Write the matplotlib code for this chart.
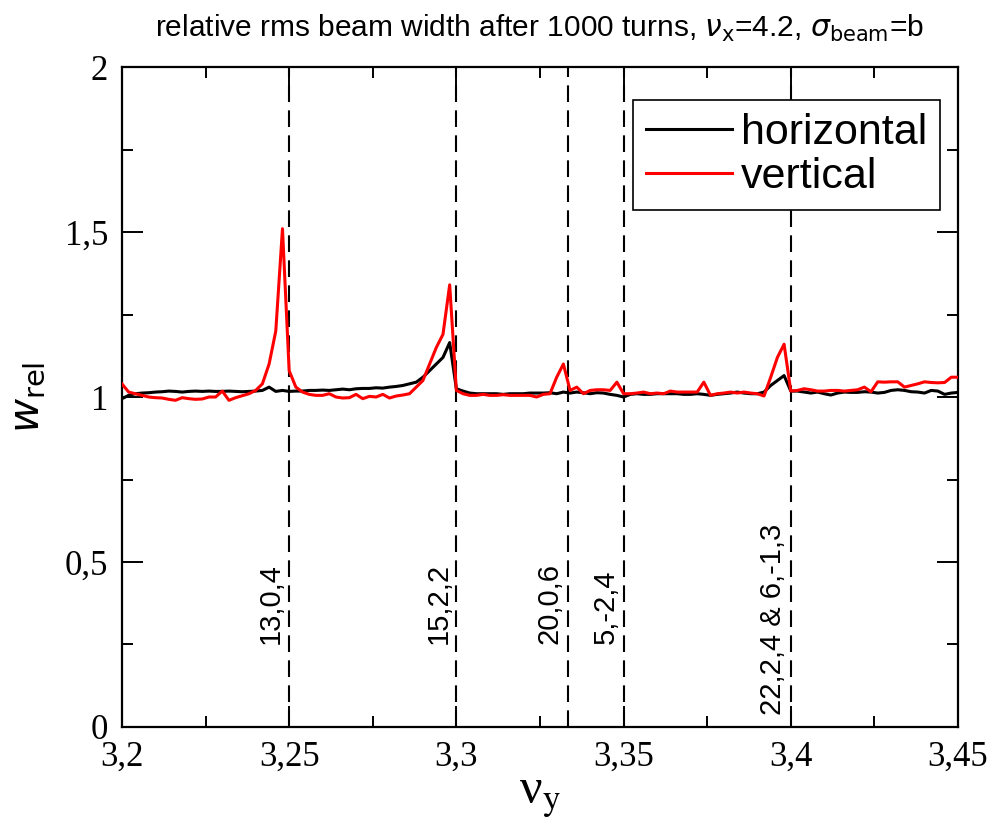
import matplotlib
matplotlib.use("Agg")
import matplotlib.pyplot as plt
import numpy as np
from matplotlib.ticker import MultipleLocator, FuncFormatter
from matplotlib.transforms import offset_copy

# tune scan grid (nu_y), step 0.002
NU_Y = np.round(np.arange(3.200, 3.4501, 0.002), 3)

# one row = 10 scan points (3.200-3.218, 3.220-3.238, ...)
HORIZONTAL = [
    0.995, 1.005, 1.010, 1.012, 1.013, 1.015, 1.016, 1.018, 1.017, 1.015,
    1.017, 1.018, 1.017, 1.018, 1.017, 1.017, 1.018, 1.017, 1.016, 1.017,
    1.018, 1.020, 1.030, 1.017, 1.020, 1.017, 1.018, 1.018, 1.020, 1.020,
    1.021, 1.020, 1.022, 1.024, 1.022, 1.025, 1.026, 1.026, 1.028, 1.027,
    1.030, 1.032, 1.035, 1.040, 1.045, 1.060, 1.080, 1.100, 1.120, 1.165,
    1.025, 1.018, 1.012, 1.010, 1.010, 1.010, 1.010, 1.008, 1.010, 1.010,
    1.010, 1.012, 1.012, 1.012, 1.013, 1.010, 1.015, 1.012, 1.015, 1.013,
    1.010, 1.013, 1.012, 1.008, 1.005, 1.000, 1.008, 1.010, 1.008, 1.008,
    1.010, 1.010, 1.010, 1.010, 1.008, 1.008, 1.010, 1.008, 1.005, 1.008,
    1.010, 1.012, 1.015, 1.012, 1.010, 1.010, 1.015, 1.035, 1.050, 1.065,
    1.018, 1.018, 1.015, 1.012, 1.015, 1.010, 1.006, 1.012, 1.015, 1.014,
    1.014, 1.016, 1.015, 1.012, 1.014, 1.020, 1.022, 1.020, 1.016, 1.015,
    1.012, 1.020, 1.018, 1.008, 1.012, 1.014,
]

VERTICAL = [
    1.040, 1.015, 1.010, 1.005, 1.000, 0.998, 0.997, 0.993, 0.990, 0.998,
    0.995, 0.993, 0.994, 1.000, 1.000, 1.018, 0.990, 0.998, 1.004, 1.010,
    1.020, 1.040, 1.100, 1.200, 1.510, 1.080, 1.030, 1.015, 1.008, 1.005,
    1.005, 1.010, 1.000, 0.997, 0.998, 1.008, 0.995, 1.002, 1.000, 1.008,
    0.997, 1.003, 1.006, 1.010, 1.030, 1.050, 1.100, 1.150, 1.190, 1.340,
    1.020, 1.010, 1.005, 1.005, 1.008, 1.005, 1.005, 1.007, 1.005, 1.005,
    1.005, 1.005, 1.000, 1.008, 1.010, 1.060, 1.100, 1.020, 1.030, 1.010,
    1.020, 1.022, 1.022, 1.020, 1.045, 1.010, 1.010, 1.012, 1.015, 1.010,
    1.012, 1.010, 1.018, 1.015, 1.015, 1.015, 1.015, 1.045, 1.005, 1.010,
    1.012, 1.015, 1.012, 1.015, 1.012, 1.010, 1.003, 1.060, 1.120, 1.160,
    1.018, 1.020, 1.025, 1.022, 1.018, 1.018, 1.020, 1.020, 1.018, 1.020,
    1.022, 1.030, 1.016, 1.046, 1.045, 1.046, 1.046, 1.030, 1.035, 1.040,
    1.046, 1.044, 1.043, 1.044, 1.060, 1.060,
]

RESONANCES = [3.25, 3.30, 10.0 / 3.0, 3.35, 3.40]
RESONANCE_LABELS = ["13,0,4", "15,2,2", "20,0,6", "5,-2,4", "22,2,4 & 6,-1,3"]
LABEL_BASE = [0.25, 0.25, 0.25, 0.25, 0.035]


def comma(v, pos):
    return f"{v:g}".replace(".", ",")


fig = plt.figure(figsize=(9.98, 8.39), dpi=100)
ax = fig.add_axes([0.1222, 0.1335, 0.8377, 0.7866])

ax.plot(NU_Y, HORIZONTAL, color="black", lw=2.2, label="horizontal", zorder=3)
ax.plot(NU_Y, VERTICAL, color="#ff0000", lw=2.2, label="vertical", zorder=4)

for nu, lab, base in zip(RESONANCES, RESONANCE_LABELS, LABEL_BASE):
    ax.axvline(nu, color="black", lw=1.5, ls=(0, (8, 4)), zorder=2)
    tr = offset_copy(ax.transData, fig=fig, x=-4, y=0, units="dots")
    ax.text(nu, base, lab, rotation=90, ha="right", va="bottom",
            fontsize=21, family="Liberation Sans", transform=tr)

ax.set_xlim(3.2, 3.45)
ax.set_ylim(0, 2)
ax.xaxis.set_major_locator(MultipleLocator(0.05))
ax.xaxis.set_minor_locator(MultipleLocator(0.025))
ax.yaxis.set_major_locator(MultipleLocator(0.5))
ax.yaxis.set_minor_locator(MultipleLocator(0.25))
ax.xaxis.set_major_formatter(FuncFormatter(comma))
ax.yaxis.set_major_formatter(FuncFormatter(comma))
ax.tick_params(which="both", direction="in", top=True, right=True, width=1.4)
ax.tick_params(which="major", length=15, labelsize=25)
ax.tick_params(axis="x", which="major", pad=10)
ax.tick_params(axis="y", which="major", pad=10)
ax.tick_params(which="minor", length=8)
for lbl in ax.get_xticklabels() + ax.get_yticklabels():
    lbl.set_family("Liberation Serif")
for sp in ax.spines.values():
    sp.set_linewidth(1.6)

ax.set_xlabel("ν$_{\\rm y}$", fontsize=36, family="Liberation Serif",
              math_fontfamily="stix", labelpad=0)
ax.set_ylabel(r"$w_{\rm rel}$", fontsize=30, math_fontfamily="dejavusans", labelpad=12)
ax.set_title(r"relative rms beam width after 1000 turns, $\nu_{\rm x}$=4.2, $\sigma_{\rm beam}$=b",
             fontsize=21.5, family="Liberation Sans", math_fontfamily="dejavusans", pad=22)

leg = ax.legend(loc="upper right", bbox_to_anchor=(0.9785, 0.95), borderaxespad=0,
                prop={"family": "Liberation Sans", "size": 31},
                fancybox=False, edgecolor="black", framealpha=1,
                handlelength=2.0, handletextpad=0.2, labelspacing=0.1, borderpad=0.3)
leg.get_frame().set_linewidth(1.2)

fig.savefig("out.png", dpi=100)
